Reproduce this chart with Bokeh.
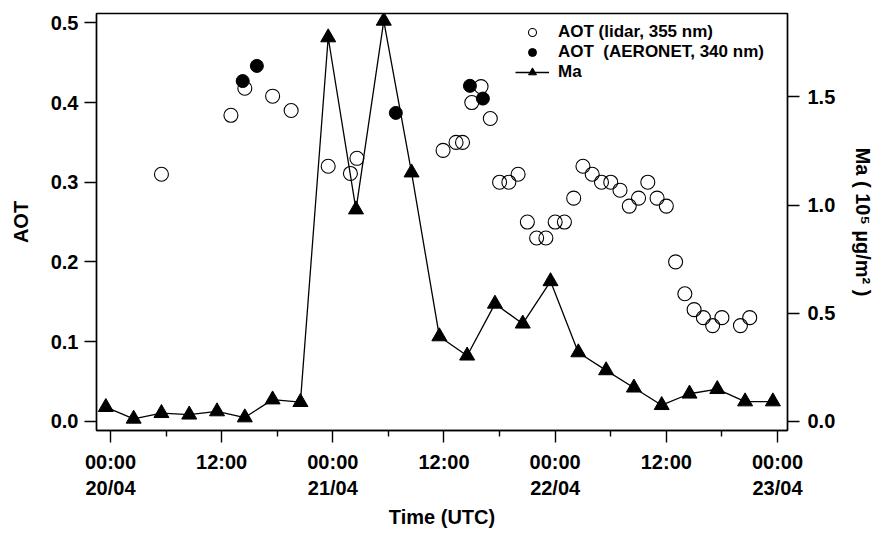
from bokeh.plotting import figure
from bokeh.models import (LinearAxis, Range1d, FixedTicker, Legend, LegendItem,
                          ColumnDataSource, NumeralTickFormatter)
from bokeh.embed import file_html
from bokeh.resources import INLINE

# ---- data (hours since 20/04 00:00 UTC) ----
lidar_hours = [5.5, 13.0, 14.5, 17.5, 19.5, 23.5, 25.9, 26.6, 35.9, 37.3, 38.0, 39.0,
               40.0, 41.0, 42.0, 43.0, 44.0, 45.0, 46.0, 47.0, 48.0, 49.0, 50.0, 51.0,
               52.0, 53.0, 54.0, 55.0, 56.0, 57.0, 58.0, 59.0, 60.0, 61.0, 62.0, 63.0,
               64.0, 65.0, 66.0, 68.0, 69.0]
lidar_aot = [0.310, 0.384, 0.418, 0.408, 0.390, 0.320, 0.311, 0.330, 0.340, 0.350, 0.350, 0.400,
             0.420, 0.380, 0.300, 0.300, 0.310, 0.250, 0.230, 0.230, 0.250, 0.250, 0.280, 0.320,
             0.310, 0.300, 0.300, 0.290, 0.270, 0.280, 0.300, 0.280, 0.270, 0.200, 0.160, 0.140,
             0.130, 0.120, 0.130, 0.120, 0.130]

aeronet_hours = [14.27, 15.8, 30.8, 38.8, 40.2]
aeronet_aot = [0.427, 0.446, 0.387, 0.421, 0.405]

ma_hours = [-0.5, 2.5, 5.5, 8.5, 11.5, 14.5, 17.5, 20.5, 23.5, 26.5, 29.5, 32.5, 35.5,
            38.5, 41.5, 44.5, 47.5, 50.5, 53.5, 56.5, 59.5, 62.5, 65.5, 68.5, 71.5]
ma_values = [0.065, 0.011, 0.037, 0.030, 0.045, 0.017, 0.100, 0.088, 1.775, 0.979, 1.852, 1.150,
             0.392, 0.303, 0.543, 0.451, 0.647, 0.318, 0.235, 0.155, 0.074, 0.127, 0.148,
             0.091, 0.091]

x_ticks = [0, 12, 24, 36, 48, 60, 72]
x_tick_labels = ["00:00\n20/04", "12:00", "00:00\n21/04", "12:00", "00:00\n22/04", "12:00", "00:00\n23/04"]
x_minor_ticks = [6, 18, 30, 42, 54, 66]
aot_ticks = [0.0, 0.1, 0.2, 0.3, 0.4, 0.5]
ma_ticks = [0.0, 0.5, 1.0, 1.5]

FONT = "Liberation Sans"

p = figure(width=882, height=541, output_backend="svg", toolbar_location=None,
           x_range=Range1d(-1.51, 73.08), y_range=Range1d(-0.0117, 0.5118),
           min_border_left=96, min_border_right=95, min_border_top=13, min_border_bottom=111,
           background_fill_color="white", border_fill_color="white")
p.extra_y_ranges = {"ma": Range1d(-0.043, 1.886)}

p.xgrid.visible = False
p.ygrid.visible = False
p.outline_line_color = "black"
p.outline_line_width = 1.4
p.outline_line_alpha = 1.0

# Ma line + triangles (right axis)
src_ma = ColumnDataSource(dict(x=ma_hours, y=ma_values))
r_ma_line = p.line("x", "y", source=src_ma, y_range_name="ma", line_color="black", line_width=1.3)
r_ma_pts = p.scatter("x", "y", source=src_ma, y_range_name="ma", marker="triangle", size=15,
                     fill_color="black", line_color="black")

# lidar AOT (open circles)
src_l = ColumnDataSource(dict(x=lidar_hours, y=lidar_aot))
r_lidar = p.scatter("x", "y", source=src_l, marker="circle", size=14, fill_alpha=0,
                    line_color="black", line_width=1.1)

# AERONET AOT (filled circles)
src_a = ColumnDataSource(dict(x=aeronet_hours, y=aeronet_aot))
r_aer = p.scatter("x", "y", source=src_a, marker="circle", size=13, fill_color="black",
                  line_color="black")

# ---- axes ----
xa = p.xaxis[0]
xa.ticker = FixedTicker(ticks=x_ticks, minor_ticks=x_minor_ticks)
xa.major_label_overrides = {t: lab for t, lab in zip(x_ticks, x_tick_labels)}
xa.axis_label = "Time (UTC)"

ya = p.yaxis[0]
ya.ticker = FixedTicker(ticks=aot_ticks)
ya.formatter = NumeralTickFormatter(format="0.0")
ya.axis_label = "AOT"

ra = LinearAxis(y_range_name="ma", ticker=FixedTicker(ticks=ma_ticks),
                formatter=NumeralTickFormatter(format="0.0"),
                axis_label="Ma ( 10\u2075 \u00b5g/m\u00b2 )")
p.add_layout(ra, "right")

for ax in (xa, ya, ra):
    ax.axis_line_color = "black"
    ax.axis_line_width = 1.4
    ax.major_tick_line_color = "black"
    ax.major_tick_line_width = 1.4
    ax.minor_tick_line_color = "black"
    ax.minor_tick_line_width = 1.4
    ax.major_tick_in = 0
    ax.major_tick_out = 12
    ax.minor_tick_in = 0
    ax.minor_tick_out = 6
    ax.major_label_text_font = FONT
    ax.major_label_text_font_style = "bold"
    ax.major_label_text_font_size = "20px"
    ax.major_label_text_color = "black"
    ax.axis_label_text_font = FONT
    ax.axis_label_text_font_style = "bold"
    ax.axis_label_text_font_size = "20px"
    ax.axis_label_text_color = "black"

ya.minor_tick_line_color = None
ra.minor_tick_line_color = None
xa.major_label_standoff = 8
ya.major_label_standoff = 6
ra.major_label_standoff = 8
xa.axis_label_standoff = 4
ya.axis_label_standoff = 16
ra.axis_label_standoff = 14

# ---- legend ----
legend = Legend(items=[
    LegendItem(label="AOT (lidar, 355 nm)", renderers=[r_lidar]),
    LegendItem(label="AOT  (AERONET, 340 nm)", renderers=[r_aer]),
    LegendItem(label="Ma", renderers=[r_ma_line, r_ma_pts]),
], location=(419, 348))
legend.border_line_color = None
legend.background_fill_alpha = 0
legend.padding = 0
legend.margin = 0
legend.spacing = 0
legend.glyph_width = 34
legend.glyph_height = 20
legend.label_height = 20
legend.label_standoff = 9
legend.label_text_font = FONT
legend.label_text_font_style = "bold"
legend.label_text_font_size = "17px"
legend.label_text_color = "black"
p.add_layout(legend, "center")

open("out.html", "w").write(file_html(p, INLINE))
